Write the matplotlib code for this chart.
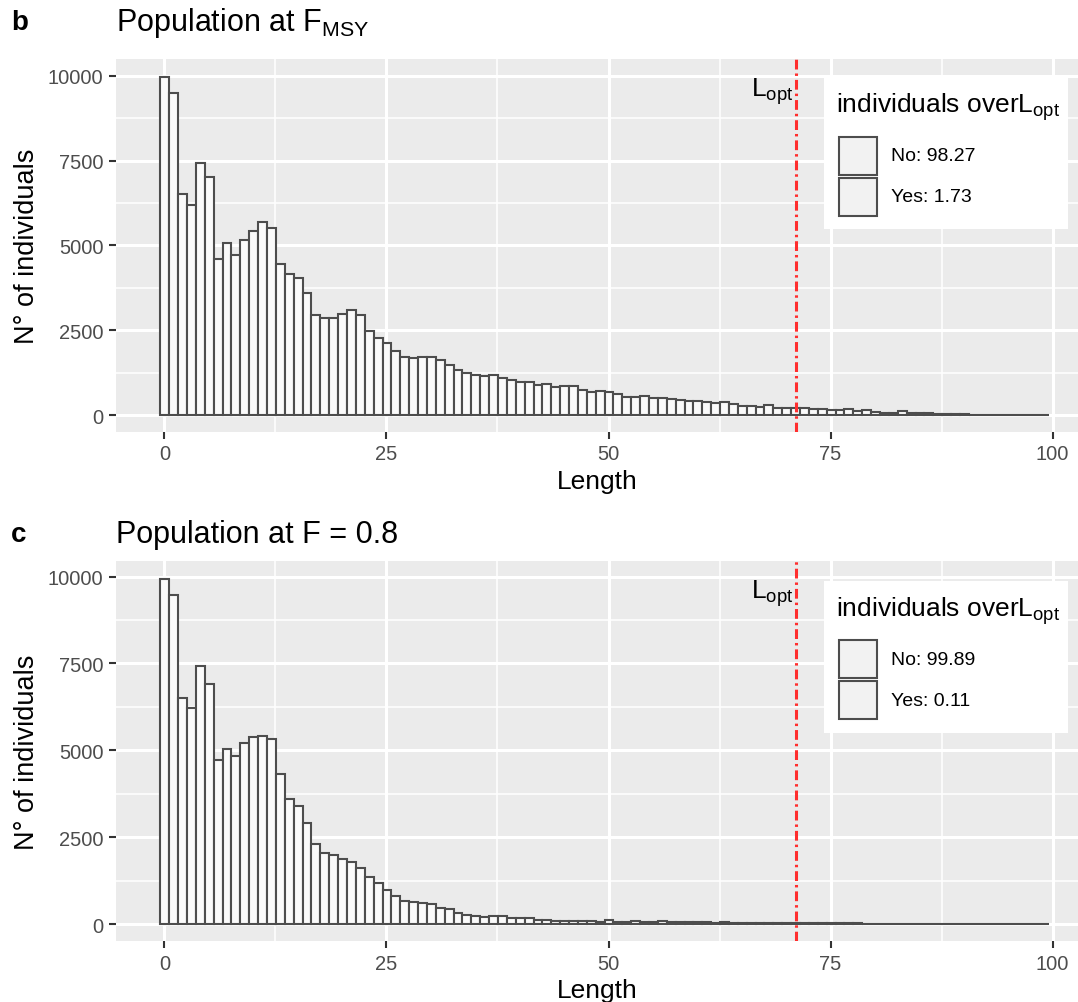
import matplotlib
matplotlib.use('Agg')
import matplotlib.pyplot as plt
from matplotlib.patches import Rectangle
import numpy as np

plt.rcParams['font.family'] = ['Liberation Sans', 'DejaVu Sans']
plt.rcParams['mathtext.fontset'] = 'custom'
plt.rcParams['mathtext.rm'] = 'Liberation Sans'
plt.rcParams['mathtext.it'] = 'Liberation Sans:italic'

# length classes (one bar per cm)
lengths = np.arange(100)

# counts at F_MSY
counts_fmsy = [9975, 9490, 6500, 6195, 7425, 7010, 4600, 5080, 4730, 5170,
               5415, 5690, 5525, 4460, 4165, 4050, 3595, 2945, 2850, 2870,
               2975, 3095, 2945, 2485, 2268, 2117, 1891, 1705, 1675, 1724,
               1724, 1635, 1488, 1321, 1242, 1183, 1154, 1183, 1105, 1036,
               987, 987, 879, 909, 840, 859, 859, 741, 692, 712,
               682, 633, 545, 545, 574, 515, 495, 485, 456, 427,
               427, 378, 348, 387, 329, 279, 279, 250, 289, 211,
               211, 205, 220, 181, 181, 152, 152, 191, 122, 162,
               103, 73, 73, 112, 73, 63, 63, 44, 44, 44,
               44, 14, 14, 14, 14, 14, 14, 14, 14, 5]

# counts at F = 0.8
counts_f08 = [9930, 9470, 6515, 6216, 7422, 6920, 4720, 5038, 4826, 5202,
              5395, 5424, 5328, 4305, 3591, 3388, 2896, 2307, 2056, 1989,
              1863, 1777, 1612, 1352, 1169, 975, 801, 666, 637, 608,
              570, 473, 435, 329, 261, 223, 213, 223, 232, 174,
              165, 174, 126, 126, 88, 88, 88, 88, 88, 68,
              107, 59, 59, 88, 68, 50, 75, 45, 45, 45,
              45, 45, 28, 55] + [16] * 15 + [3] * 21

titles = [r'Population at $\mathregular{F_{MSY}}$', 'Population at F = 0.8']
tags = ['b', 'c']
pct_no = ['98.27', '99.89']
pct_yes = ['1.73', '0.11']
l_opt = 71.1

W, H = 1078, 1003
fig = plt.figure(figsize=(W / 100, H / 100), dpi=100)


def fx(x):
    return x / W


def fy(y):
    return 1 - y / H


panels = [
    dict(top=59.7, bottom=433, ylim=(-500, 10500), counts=counts_fmsy, off=0),
    dict(top=562, bottom=942.3, ylim=(-498, 10450), counts=counts_f08, off=503.7),
]

for i, p in enumerate(panels):
    ax = fig.add_axes([fx(116), fy(p['bottom']), fx(W - 116), (p['bottom'] - p['top']) / H])
    ax.set_facecolor('#EBEBEB')
    for s in ax.spines.values():
        s.set_visible(False)

    ax.bar(lengths + 0.06, p['counts'], width=1.0, facecolor='#FAFAFA',
           edgecolor='#4D4D4D', linewidth=1.5, zorder=3)
    ax.axvline(l_opt, color='#FF2E2E', linewidth=2.2, dashes=(3.2, 1.3, 0.8, 1.3), zorder=4)
    ax.text(l_opt - 0.3, 9550, r'$\mathregular{L_{opt}}$', ha='right', va='center',
            fontsize=19, color='black', zorder=5)

    ax.set_xlim(-5.44, 102.85)
    ax.set_ylim(*p['ylim'])
    ax.set_xticks([0, 25, 50, 75, 100])
    ax.set_xticks([12.5, 37.5, 62.5, 87.5], minor=True)
    ax.set_yticks([0, 2500, 5000, 7500, 10000])
    ax.set_yticks([1250, 3750, 6250, 8750], minor=True)
    ax.grid(which='major', color='white', linewidth=2.2, zorder=0)
    ax.grid(which='minor', color='white', linewidth=1.1, zorder=0)
    ax.set_axisbelow(True)
    ax.tick_params(which='major', length=5, width=1.5, color='#333333',
                   labelsize=14.5, labelcolor='#4D4D4D', pad=4)
    ax.tick_params(which='minor', length=0)
    ax.set_xlabel('Length', fontsize=19, labelpad=4)
    ax.set_ylabel('N° of individuals', fontsize=19.5, labelpad=6)

    # panel tag and title
    ty = 23 if i == 0 else 535
    fig.text(fx(11), fy(ty), tags[i], fontsize=20, fontweight='bold',
             ha='left', va='center')
    fig.text(fx(116), fy(ty), titles[i], fontsize=22, ha='left', va='center')

    # legend drawn inside the panel
    o = p['off']
    fig.add_artist(Rectangle((fx(824), fy(230 + o)), fx(1068 - 824), (230 - 78) / H,
                             transform=fig.transFigure, facecolor='white',
                             edgecolor='none', zorder=6))
    fig.text(fx(836), fy(113 + o), r'individuals over$\mathregular{L_{opt}}$',
             fontsize=19, ha='left', va='baseline', zorder=7)
    labels = ['No: ' + pct_no[i], 'Yes: ' + pct_yes[i]]
    for k, lab in enumerate(labels):
        y0 = 137.5 + 41 * k + o
        fig.add_artist(Rectangle((fx(838.5), fy(y0 + 38)), fx(38), 38 / H,
                                 transform=fig.transFigure, facecolor='#F2F2F2',
                                 edgecolor='#4D4D4D', linewidth=1.5, zorder=7))
        fig.text(fx(891), fy(y0 + 19), lab, fontsize=14, ha='left', va='center', zorder=8)

fig.savefig('out.png', dpi=100)
